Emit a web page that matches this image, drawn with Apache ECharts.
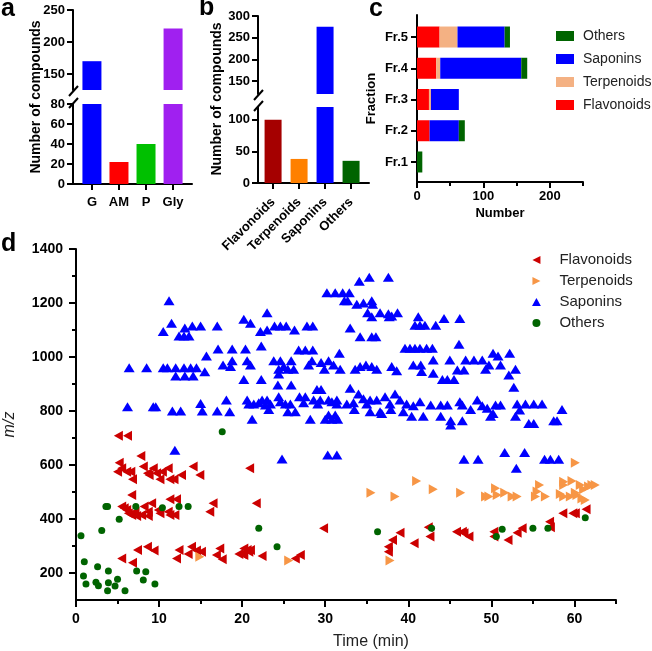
<!DOCTYPE html>
<html><head><meta charset="utf-8">
<script src="https://cdn.jsdelivr.net/npm/echarts@6/dist/echarts.min.js"></script>
<style>html,body{margin:0;padding:0;background:#fff}#c{width:652px;height:651px}</style>
</head><body><div id="c"></div>
<script>
// ---------- data ----------
const aCategories = ['G', 'AM', 'P', 'Gly'];
const aValues = [170, 22, 40, 221];
const aColors = ['#0000FF', '#FF0000', '#00C000', '#A020F0'];

const bCategories = ['Flavonoids', 'Terpenoids', 'Saponins', 'Others'];
const bValues = [100, 38, 275, 35];
const bColors = ['#A50000', '#FF8000', '#0000FF', '#006400'];

const cFractions = ['Fr.1', 'Fr.2', 'Fr.3', 'Fr.4', 'Fr.5'];
const cFlavonoids = [0, 19, 18, 29, 34];
const cTerpenoids = [0, 0, 3, 6, 27];
const cSaponins = [0, 44, 42, 122, 71];
const cOthers = [8, 9, 0, 9, 8];

const aTickLabels = [0, 20, 40, 60, 80];
const aTickLabelsUpper = [150, 200, 250];
const bTickLabels = [0, 50, 100];
const bTickLabelsUpper = [150, 200, 250, 300];
const cTickLabels = [0, 100, 200];
const dTimeTicks = [0, 10, 20, 30, 40, 50, 60];
const dMzTicks = [200, 400, 600, 800, 1000, 1200, 1400];

// [time (min), m/z]
const flavonoidPoints = [
 [5.1,708],[6.2,708],[7.8,633],
 [5.2,608],[5.0,575],[5.5,588],[6.1,575],[6.6,575],[6.8,547],[8.1,594],[8.6,569],[8.8,563],[9.3,588],[9.7,569],[10.4,575],[10.1,547],[11.1,588],[11.3,547],[11.8,547],[12.7,563],[14.1,594],[14.9,563],
 [6.7,489],
 [5.5,446],[5.8,440],[6.1,433],[6.3,421],[6.7,415],[7.1,427],[7.3,411],[7.9,415],[8.2,446],[8.7,427],[9.1,458],[8.7,411],[9.9,433],[10.1,421],[11.3,473],[12.1,473],[11.1,427],[11.3,415],[11.9,415],[16.5,458],[16.1,427],
 [5.5,254],[6.8,238],[7.4,285],[8.6,297],[9.4,283],[12.1,254],[12.4,285],[13.5,270],[13.9,297],[14.5,283],[15.1,279],[16.9,267],[17.3,291],
 [20.9,588],[21.7,458],[29.8,366],[17.6,251],[19.6,270],[20.0,270],[20.2,291],[20.6,285],[21.0,285],[20.2,267],[20.8,279],[22.4,263],[26.4,254],[27.0,267],
 [37.6,297],[37.6,279],[38.1,322],[39.0,349],[40.7,310],
 [42.4,369],[42.6,335],[45.8,353],[46.5,353],[46.7,347],[47.3,335],[50.3,353],[50.3,335],[52.0,322],[53.1,349],[53.7,366],[57.0,390],[57.1,369],[58.6,421],[59.8,421],[60.1,421],[61.4,436]
];
const terpenoidPoints = [
 [14.9,260],[25.6,246],[35.5,497],[38.4,483],[41.0,541],[37.8,246],
 [43.0,510],[46.3,497],[49.3,483],[49.7,483],[50.5,514],[50.7,489],[51.6,497],[52.5,483],[53.1,483],[55.3,483],[55.5,502],[55.8,526],[56.5,483],
 [58.3,493],[58.7,483],[59.5,483],[58.7,538],[58.7,526],[59.7,541],[60.1,497],[60.3,489],[60.7,526],[60.9,476],[61.3,470],[61.1,510],[61.7,520],[62.1,526],[62.5,526],[60.1,608]
];
const saponinPoints = [
 [11.2,1208],[10.5,1094],[11.5,1125],[12.4,1078],[13.0,1078],[13.6,1078],[13.1,1107],[14.0,1115],[15.0,1115],[17.0,1115],[15.7,1004],[17.1,1030],
 [6.4,960],[8.5,960],[10.5,960],[11.0,960],[12.0,960],[13.0,960],[13.8,960],[14.5,960],
 [12.0,930],[13.1,930],[14.1,930],[15.5,945],
 [6.2,816],[9.3,816],[9.6,816],[11.6,800],[12.6,800],[15.0,828],[15.2,800],[17.0,800],[11.9,655],
 [34.1,1281],[35.3,1295],[37.6,1295],[30.2,1238],[31.2,1238],[32.1,1238],[32.9,1238],[32.3,1208],[32.7,1208],[33.8,1195],[34.6,1200],[35.6,1208],[35.7,1195],
 [35.1,1164],[35.6,1149],[36.6,1164],[37.6,1160],[37.7,1149],[38.0,1152],[38.7,1164],
 [20.2,1140],[21.0,1125],[23.0,1164],[22.2,1094],[23.0,1100],[23.9,1115],[24.6,1115],[25.3,1115],[26.3,1100],[27.8,1115],[28.5,1115],[33.0,1107],[34.2,1075],[35.6,1075],[36.1,1075],
 [18.8,1030],[20.4,1030],[22.3,1041],[26.8,1026],[27.6,1026],[28.5,1026],[31.7,1014],
 [17.7,970],[18.8,986],[18.6,965],[20.6,986],[21.0,970],[23.8,986],[24.6,986],[25.9,986],[25.0,965],[28.0,970],[28.4,986],[29.5,980],[30.4,986],[31.0,970],[33.6,955],[34.2,965],[34.9,970],[35.6,965],[36.2,955],[38.0,965],[38.6,949],
 [24.4,955],[25.5,955],[26.2,955],[29.9,955],[31.8,955],[24.4,937],[20.2,917],[22.3,917],[24.3,896],[25.9,896],[29.0,880],[29.5,880],[33.0,884],
 [18.1,841],[20.6,841],[20.8,826],[21.4,826],[22.0,831],[22.4,841],[23.0,841],[22.8,822],[23.4,826],[24.4,853],[24.6,834],[25.2,826],[25.8,826],[26.9,853],[27.6,853],[27.4,831],[28.6,841],[29.4,841],[29.1,826],[30.4,841],[30.8,834],[31.4,841],[31.4,826],[32.6,826],[33.4,831],[34.0,863],[34.6,845],[35.0,826],[35.4,841],[36.2,841],[37.2,853],[37.8,826],[38.4,863],[39.0,841],[39.8,826],
 [18.5,797],[21.2,769],[23.2,806],[25.5,797],[26.4,797],[28.2,769],[30.0,769],[30.4,785],[30.8,769],[31.2,785],[31.5,769],[33.5,806],[35.4,797],[36.6,797],[36.8,791],[37.9,806],[39.4,797],
 [24.8,622],[30.3,637],[31.4,637],
 [41.2,1149],[40.8,1118],[41.4,1118],[42.0,1118],[43.3,1118],[44.3,1143],[46.2,1143],
 [39.6,1032],[40.2,1032],[40.8,1032],[41.4,1032],[42.2,1032],[42.9,1032],[46.1,1047],
 [43.0,989],[45.0,989],[46.9,989],[47.9,989],[48.9,989],[50.2,1014],[50.8,1004],[52.2,1014],
 [40.6,970],[41.5,970],[41.6,946],[43.0,940],[44.1,917],[44.7,917],[45.5,917],[45.9,952],[46.7,952],[49.7,970],[49.3,955],[51.1,970],[52.1,933],[52.9,955],[52.7,888],
 [40.6,819],[41.4,834],[42.7,822],[43.9,822],[44.7,822],[46.2,834],[46.5,822],[48.3,841],[48.9,819],[49.5,810],[50.5,822],[51.1,822],[53.1,826],[54.1,826],[55.1,826],[56.1,826],[58.5,806],
 [40.4,781],[41.8,781],[43.9,781],[45.1,764],[45.1,748],[46.5,764],[47.5,806],[49.9,781],[50.2,791],[52.9,781],[53.4,804],[54.5,754],[55.1,754],[57.5,764],[57.9,764],
 [46.7,621],[48.4,621],[51.6,646],[53.0,588],[54.0,646],[56.4,621],[57.1,621],[58.1,621]
];
const otherPoints = [
 [3.6,446],[3.8,446],[0.6,338],[3.1,357],[5.2,399],[7.2,446],[10.4,442],[12.4,446],[13.5,446],
 [1.0,242],[0.9,189],[1.2,159],[2.6,223],[2.4,166],[2.7,153],[3.9,207],[3.9,164],[3.8,134],[4.7,152],[5.0,177],[5.9,134],[7.3,207],[8.1,174],[8.4,205],[9.5,159],
 [17.6,723],[22.0,366],[24.2,297],[36.3,353],[42.8,366],[51.3,362],[50.6,335],[55.0,366],[56.8,366],[61.3,405]
];

// ---------- chart ----------
const FONT = '"Liberation Sans", Arial, sans-serif';
const chart = echarts.init(document.getElementById('c'), null, {renderer: 'canvas', width: 652, height: 651});

const plain = v => String(Math.round(v));
const lbl13 = {fontFamily: FONT, fontWeight: 'bold', fontSize: 13, color: '#000'};
const lbl14 = {fontFamily: FONT, fontWeight: 'bold', fontSize: 14, color: '#000'};
const line2 = {show: true, onZero: false, lineStyle: {color: '#000', width: 2}};
const noSplit = {show: false};

function grid(left, top, width, height) {
  return {left, top, width, height, containLabel: false, outerBoundsMode: 'none'};
}
function hiddenAxis(gi, min, max) {
  return {type: 'value', gridIndex: gi, min, max, show: false, splitLine: noSplit};
}
function tickAxis(gi, min, max, ticks, labels, len, extra) {
  return Object.assign({
    type: 'value', gridIndex: gi, min, max,
    axisLine: line2,
    axisTick: {show: true, inside: false, length: len, customValues: ticks, lineStyle: {color: '#000', width: 2}},
    axisLabel: labels ? Object.assign({show: true, customValues: labels, formatter: plain}, lbl13) : {show: false},
    splitLine: noSplit
  }, extra || {});
}
function minorAxis(gi, min, max, ticks, len, pos) {
  return {
    type: 'value', gridIndex: gi, min, max, position: pos,
    axisLine: {show: false},
    axisTick: {show: true, inside: false, length: len, customValues: ticks, lineStyle: {color: '#000', width: 2}},
    axisLabel: {show: false},
    splitLine: noSplit
  };
}

const aData = aValues.map((v, i) => ({value: [i, v], itemStyle: {color: aColors[i]}}));
const bData = bValues.map((v, i) => ({value: [i, v], itemStyle: {color: bColors[i]}}));
const aIdx = aCategories.map((_, i) => i);
const bIdx = bCategories.map((_, i) => i);

const option = {
  animation: false,
  backgroundColor: '#fff',
  grid: [
    grid(73, 10, 119, 80),     // 0 a upper
    grid(73, 104, 119, 80),    // 1 a lower
    grid(258, 16, 111, 78),    // 2 b upper
    grid(258, 107, 111, 76),   // 3 b lower
    grid(417, 21.4, 166, 156.2), // 4 c bars
    grid(417, 15, 166, 167),   // 5 c frame
    grid(76, 249, 540, 351)    // 6 d
  ],
  xAxis: [
    hiddenAxis(0, -0.70, 3.70),
    Object.assign(tickAxis(1, -0.70, 3.70, aIdx, null, 6), {
      axisLabel: Object.assign({show: true, customValues: aIdx, margin: 12, formatter: v => aCategories[Math.round(v)]}, lbl13)
    }),
    hiddenAxis(2, -0.58, 3.69),
    Object.assign(tickAxis(3, -0.58, 3.69, bIdx, null, 6), {
      axisLabel: Object.assign({show: true, customValues: bIdx, rotate: 45, margin: 17, formatter: v => bCategories[Math.round(v)]}, lbl13)
    }),
    hiddenAxis(4, 0, 250),
    tickAxis(5, 0, 250, cTickLabels, cTickLabels, 6, {
      name: 'Number', nameLocation: 'middle', nameGap: 25,
      nameTextStyle: lbl13
    }),
    minorAxis(5, 0, 250, [50, 150, 250], 4, 'bottom'),
    Object.assign(tickAxis(6, 0, 65, dTimeTicks, null, 7, {
      name: 'Time (min)', nameLocation: 'middle', nameGap: 34,
      nameTextStyle: {fontFamily: FONT, fontSize: 16, color: '#222', padding: [0, 0, 0, 50]}
    }), {axisLabel: Object.assign({show: true, customValues: dTimeTicks, margin: 12, formatter: plain}, lbl14)}),
    minorAxis(6, 0, 65, [5, 15, 25, 35, 45, 55, 65], 4, 'bottom')
  ],
  yAxis: [
    tickAxis(0, 125, 250, aTickLabelsUpper, aTickLabelsUpper, 6),
    tickAxis(1, 0, 80, aTickLabels, aTickLabels, 6),
    tickAxis(2, 120, 300, bTickLabelsUpper, bTickLabelsUpper, 6),
    tickAxis(3, 0, 120, bTickLabels, bTickLabels, 6),
    {
      type: 'category', gridIndex: 4, data: cFractions, boundaryGap: true,
      axisLine: {show: false},
      axisTick: {show: true, alignWithLabel: true, length: 6, lineStyle: {color: '#000', width: 2}},
      axisLabel: Object.assign({margin: 9}, lbl13),
      splitLine: noSplit
    },
    {
      type: 'value', gridIndex: 5, min: 0, max: 1,
      axisLine: line2, axisTick: {show: false}, axisLabel: {show: false}, splitLine: noSplit,
      name: 'Fraction', nameLocation: 'middle', nameGap: 39, nameTextStyle: lbl13
    },
    Object.assign(tickAxis(6, 100, 1400, dMzTicks, null, 7, {
      name: 'm/z', nameLocation: 'middle', nameGap: 58,
      nameTextStyle: {fontFamily: FONT, fontSize: 16, fontStyle: 'italic', color: '#222'}
    }), {axisLabel: Object.assign({show: true, customValues: dMzTicks, margin: 13, formatter: plain}, lbl14)}),
    minorAxis(6, 100, 1400, [300, 500, 700, 900, 1100, 1300], 4, 'left')
  ],
  legend: [
    {
      orient: 'vertical', left: 551, top: 24, itemWidth: 26, itemHeight: 10, itemGap: 9,
      selectedMode: false,
      textStyle: {fontFamily: FONT, fontSize: 14, color: '#222', lineHeight: 14},
      data: [
        {name: 'Others', icon: 'path://M0,0h18v10h-18z', itemStyle: {color: '#006400'}},
        {name: 'Saponins', icon: 'path://M0,0h18v10h-18z', itemStyle: {color: '#0000FF'}},
        {name: 'Terpenoids', icon: 'path://M0,0h18v10h-18z', itemStyle: {color: '#F4B183'}},
        {name: 'Flavonoids', icon: 'path://M0,0h18v10h-18z', itemStyle: {color: '#FF0000'}}
      ]
    },
    {
      orient: 'vertical', left: 527, top: 247.5, itemWidth: 36, itemHeight: 8, itemGap: 6,
      selectedMode: false,
      textStyle: {fontFamily: FONT, fontSize: 15, color: '#222', lineHeight: 15},
      data: [
        {name: 'Flavonoids', icon: 'path://M0,5L10,0L10,10Z', itemStyle: {color: '#CC0000'}},
        {name: 'Terpenoids', icon: 'path://M0,0L10,5L0,10Z', itemStyle: {color: '#F79646'}},
        {name: 'Saponins', icon: 'path://M5,0L10,9L0,9Z', itemStyle: {color: '#0000FF'}},
        {name: 'Others', icon: 'circle', itemStyle: {color: '#006400'}}
      ]
    }
  ],
  graphic: [
    {type: 'text', x: 1, y: 9.6, style: {text: 'a', font: 'bold 25px ' + FONT, fill: '#000', verticalAlign: 'middle'}},
    {type: 'text', x: 199, y: 8.6, style: {text: 'b', font: 'bold 25px ' + FONT, fill: '#000', verticalAlign: 'middle'}},
    {type: 'text', x: 369, y: 9.6, style: {text: 'c', font: 'bold 25px ' + FONT, fill: '#000', verticalAlign: 'middle'}},
    {type: 'text', x: 1, y: 244.6, style: {text: 'd', font: 'bold 25px ' + FONT, fill: '#000', verticalAlign: 'middle'}},
    {type: 'text', x: 36, y: 97, rotation: Math.PI / 2, style: {text: 'Number of compounds', font: 'bold 14px ' + FONT, fill: '#000', align: 'center', verticalAlign: 'middle'}},
    {type: 'text', x: 217, y: 99, rotation: Math.PI / 2, style: {text: 'Number of compounds', font: 'bold 14px ' + FONT, fill: '#000', align: 'center', verticalAlign: 'middle'}},
    {type: 'line', shape: {x1: 69, y1: 96, x2: 78, y2: 86}, style: {stroke: '#000', lineWidth: 2}},
    {type: 'line', shape: {x1: 69, y1: 108, x2: 78, y2: 98}, style: {stroke: '#000', lineWidth: 2}},
    {type: 'line', shape: {x1: 254, y1: 100, x2: 263, y2: 90}, style: {stroke: '#000', lineWidth: 2}},
    {type: 'line', shape: {x1: 254, y1: 111, x2: 263, y2: 101}, style: {stroke: '#000', lineWidth: 2}}
  ],
  series: [
    {name: 'aUpper', type: 'bar', xAxisIndex: 0, yAxisIndex: 0, barWidth: 19, data: aData, clip: true},
    {name: 'aLower', type: 'bar', xAxisIndex: 1, yAxisIndex: 1, barWidth: 19, data: aData, clip: true},
    {name: 'bUpper', type: 'bar', xAxisIndex: 2, yAxisIndex: 2, barWidth: 17, data: bData, clip: true},
    {name: 'bLower', type: 'bar', xAxisIndex: 3, yAxisIndex: 3, barWidth: 17, data: bData, clip: true},
    {name: 'Flavonoids', type: 'bar', stack: 'frac', xAxisIndex: 4, yAxisIndex: 4, barWidth: 21, data: cFlavonoids, itemStyle: {color: '#FF0000'}},
    {name: 'Terpenoids', type: 'bar', stack: 'frac', xAxisIndex: 4, yAxisIndex: 4, barWidth: 21, data: cTerpenoids, itemStyle: {color: '#F4B183'}},
    {name: 'Saponins', type: 'bar', stack: 'frac', xAxisIndex: 4, yAxisIndex: 4, barWidth: 21, data: cSaponins, itemStyle: {color: '#0000FF'}},
    {name: 'Others', type: 'bar', stack: 'frac', xAxisIndex: 4, yAxisIndex: 4, barWidth: 21, data: cOthers, itemStyle: {color: '#006400'}},
    {name: 'Flavonoids', type: 'scatter', xAxisIndex: 7, yAxisIndex: 6, symbol: 'triangle', symbolRotate: 90, symbolSize: [10, 9], data: flavonoidPoints, itemStyle: {color: '#CC0000', opacity: 1}},
    {name: 'Terpenoids', type: 'scatter', xAxisIndex: 7, yAxisIndex: 6, symbol: 'triangle', symbolRotate: -90, symbolSize: [10, 9], data: terpenoidPoints, itemStyle: {color: '#F79646', opacity: 1}},
    {name: 'Saponins', type: 'scatter', xAxisIndex: 7, yAxisIndex: 6, symbol: 'triangle', symbolSize: [11, 9], data: saponinPoints, itemStyle: {color: '#0000FF', opacity: 1}},
    {name: 'Others', type: 'scatter', xAxisIndex: 7, yAxisIndex: 6, symbol: 'circle', symbolSize: 7, data: otherPoints, itemStyle: {color: '#006400', opacity: 1}}
  ]
};
chart.setOption(option);
</script>
</body></html>
